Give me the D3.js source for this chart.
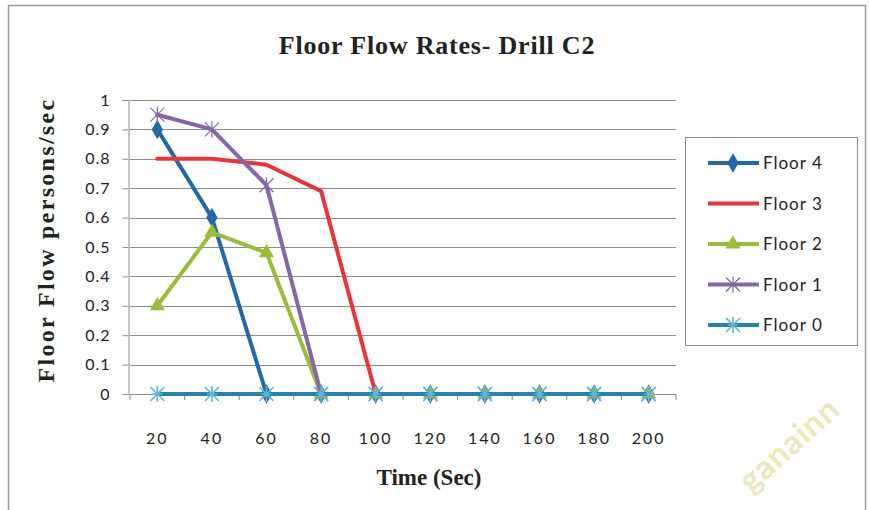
<!DOCTYPE html>
<html>
<head>
<meta charset="utf-8">
<script src="https://cdn.jsdelivr.net/npm/d3@7"></script>
<style>
  body { margin: 0; background: #fff; }
  svg { display: block; }
</style>
</head>
<body>
<svg width="869" height="510"></svg>
<script>
// chart values
var times = [20, 40, 60, 80, 100, 120, 140, 160, 180, 200];
var yTicks = [0, 0.1, 0.2, 0.3, 0.4, 0.5, 0.6, 0.7, 0.8, 0.9, 1];
var floor4 = [0.9, 0.6, 0, 0, 0, 0, 0, 0, 0, 0];
var floor3 = [0.8, 0.8, 0.78, 0.69, 0, 0, 0, 0, 0, 0];
var floor2 = [0.3, 0.55, 0.48, 0, 0, 0, 0, 0, 0, 0];
var floor1 = [0.95, 0.9, 0.71, 0, 0, 0, 0, 0, 0, 0];
var floor0 = [0, 0, 0, 0, 0, 0, 0, 0, 0, 0];

var series = [
    {name: "Floor 4", values: floor4, color: "#2467a8", marker: "diamond"},
    {name: "Floor 3", values: floor3, color: "#e8353b", marker: "none"},
    {name: "Floor 2", values: floor2, color: "#9bbb3b", marker: "triangle"},
    {name: "Floor 1", values: floor1, color: "#8566a8", marker: "star"},
    {name: "Floor 0", values: floor0, color: "#2383ab", marker: "asterisk"}
];

var svg = d3.select("svg");
var margin = {top: 100, left: 130, right: 193, bottom: 116};
var width = 869 - margin.left - margin.right;   // 546
var height = 510 - margin.top - margin.bottom;  // 294

// outer frame
svg.append("rect")
    .attr("x", 8.5).attr("y", 5.5)
    .attr("width", 857).attr("height", 520)
    .attr("fill", "#fff")
    .attr("stroke", "#9a9a9a")
    .attr("stroke-width", 1.5);

var g = svg.append("g")
    .attr("transform", "translate(" + margin.left + "," + margin.top + ")");

var x = d3.scaleBand().domain(times).range([0, width]);
var y = d3.scaleLinear().domain([0, 1]).range([height, 0]);

// gridlines
g.append("g")
    .selectAll("line")
    .data(yTicks.slice(1))
    .enter()
    .append("line")
    .attr("x1", 0).attr("x2", width)
    .attr("y1", function (d) { return Math.round(y(d)) + 0.5; })
    .attr("y2", function (d) { return Math.round(y(d)) + 0.5; })
    .attr("stroke", "#8c8c8c")
    .attr("stroke-width", 1);

// y axis
var yAxis = g.append("g")
    .attr("transform", "translate(-1.5,0)")
    .call(d3.axisLeft(y).tickValues(yTicks).tickSize(6).tickPadding(12)
        .tickFormat(function (d) { return d === 0 || d === 1 ? d : d3.format(".1f")(d); }));
yAxis.select(".domain").attr("stroke", "#8c8c8c");
yAxis.selectAll(".tick line").attr("stroke", "#8c8c8c");
yAxis.selectAll("text")
    .attr("fill", "#222")
    .style("font-family", "Lato, 'Open Sans', sans-serif")
    .style("font-size", "16px")
    .style("letter-spacing", "1px");

// x axis, ticks between categories
var xAxisG = g.append("g").attr("transform", "translate(0," + height + ")");
xAxisG.append("line")
    .attr("x1", 0).attr("x2", width)
    .attr("y1", 0.5).attr("y2", 0.5)
    .attr("stroke", "#8c8c8c");
xAxisG.selectAll(".sep")
    .data(times.concat([null]))
    .enter()
    .append("line")
    .attr("class", "sep")
    .attr("x1", function (d, i) { return i * x.step(); })
    .attr("x2", function (d, i) { return i * x.step(); })
    .attr("y1", 0).attr("y2", 6)
    .attr("stroke", "#8c8c8c");
xAxisG.selectAll(".xl")
    .data(times)
    .enter()
    .append("text")
    .attr("class", "xl")
    .attr("x", function (d) { return x(d) + x.bandwidth() / 2; })
    .attr("y", 50)
    .attr("text-anchor", "middle")
    .attr("fill", "#222")
    .style("font-family", "Lato, 'Open Sans', sans-serif")
    .style("font-size", "16px")
    .style("letter-spacing", "2px")
    .text(function (d) { return d; });

var line = d3.line()
    .x(function (v, i) { return x(times[i]) + x.bandwidth() / 2; })
    .y(function (v) { return y(v); });

function drawMarker(sel, type, color) {
    if (type === "diamond") {
        sel.append("path")
            .attr("d", d3.symbol().type(d3.symbolDiamond).size(110)())
            .attr("fill", color);
    } else if (type === "triangle") {
        sel.append("path")
            .attr("d", d3.symbol().type(d3.symbolTriangle).size(100)())
            .attr("fill", color);
    } else if (type === "star") {
        sel.append("path")
            .attr("d", "M-7,-7L7,7M-7,7L7,-7M0,-8L0,8")
            .attr("stroke", color).attr("stroke-width", 1.2).attr("fill", "none");
    } else if (type === "asterisk") {
        sel.append("path")
            .attr("d", "M-7,-7L7,7M-7,7L7,-7M0,-8L0,8M-5,0L5,0")
            .attr("stroke", color).attr("stroke-width", 1.6).attr("fill", "none");
    }
}

// lines, drawn in order so Floor 0 is on top
series.forEach(function (s) {
    g.append("path")
        .datum(s.values)
        .attr("fill", "none")
        .attr("stroke", s.color)
        .attr("stroke-width", 4)
        .attr("stroke-linejoin", "round")
        .attr("stroke-linecap", "round")
        .attr("d", line);
    if (s.marker !== "none") {
        var mcolor = s.marker === "asterisk" ? "#5cb8d6" : s.color;
        g.append("g")
            .selectAll("g")
            .data(s.values)
            .enter()
            .append("g")
            .attr("transform", function (v, i) {
                return "translate(" + (x(times[i]) + x.bandwidth() / 2) + "," + y(v) + ")";
            })
            .each(function () { drawMarker(d3.select(this), s.marker, mcolor); });
    }
});

// title
svg.append("text")
    .attr("x", 437).attr("y", 54)
    .attr("text-anchor", "middle")
    .style("font-family", "'Liberation Serif', 'DejaVu Serif', serif")
    .style("font-weight", "bold")
    .style("font-size", "26px")
    .style("letter-spacing", "0.8px")
    .attr("fill", "#222")
    .text("Floor Flow Rates- Drill C2");

// axis titles
svg.append("text")
    .attr("transform", "translate(54,240) rotate(-90)")
    .attr("text-anchor", "middle")
    .style("font-family", "'Liberation Serif', 'DejaVu Serif', serif")
    .style("font-weight", "bold")
    .style("font-size", "24px")
    .style("letter-spacing", "2.3px")
    .attr("fill", "#222")
    .text("Floor Flow persons/sec");

svg.append("text")
    .attr("x", 429).attr("y", 485)
    .attr("text-anchor", "middle")
    .style("font-family", "'Liberation Serif', 'DejaVu Serif', serif")
    .style("font-weight", "bold")
    .style("font-size", "23px")
    .attr("fill", "#222")
    .text("Time (Sec)");

// legend
var legend = svg.append("g").attr("transform", "translate(685,137)");
legend.append("rect")
    .attr("x", 0.5).attr("y", 0.5)
    .attr("width", 172).attr("height", 208)
    .attr("fill", "#fff")
    .attr("stroke", "#8c8c8c");
var item = legend.selectAll(".item")
    .data(series)
    .enter()
    .append("g")
    .attr("class", "item")
    .attr("transform", function (d, i) { return "translate(0," + (26 + i * 40.5) + ")"; });
item.append("line")
    .attr("x1", 23).attr("x2", 74)
    .attr("stroke", function (d) { return d.color; })
    .attr("stroke-width", 4);
item.each(function (d) {
    var m = d3.select(this).append("g").attr("transform", "translate(48,0)");
    drawMarker(m, d.marker, d.marker === "asterisk" ? "#5cb8d6" : d.color);
});
item.append("text")
    .attr("x", 78).attr("y", 6)
    .style("font-family", "Lato, 'Open Sans', sans-serif")
    .style("font-size", "17px")
    .style("letter-spacing", "1px")
    .attr("fill", "#222")
    .text(function (d) { return d.name; });

// faint watermark at the bottom right
svg.append("text")
    .attr("transform", "translate(842,412) rotate(-42)")
    .attr("text-anchor", "end")
    .style("font-family", "Lato, sans-serif")
    .style("font-weight", "bold")
    .style("font-size", "33px")
    .style("letter-spacing", "1px")
    .attr("fill", "#ece7bb")
    .text("ganainn");
</script>
</body>
</html>
